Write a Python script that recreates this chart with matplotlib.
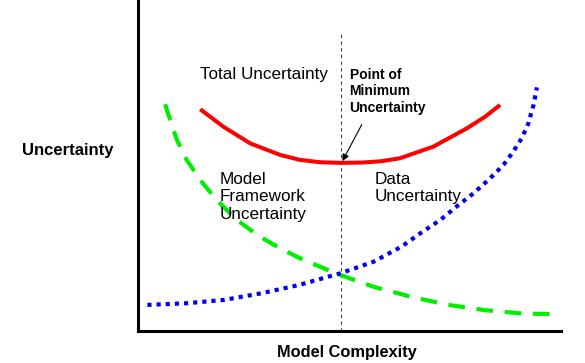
import matplotlib
matplotlib.use("Agg")
import matplotlib.pyplot as plt

plt.rcParams["font.family"] = ["Liberation Sans", "DejaVu Sans"]

# curves (x = model complexity, y = uncertainty)
total_x = [1.47, 2.02, 2.65, 3.36, 3.83, 4.30, 4.80, 5.30, 5.75, 6.19, 6.98, 7.77, 8.20, 8.56]
total_y = [6.70, 6.17, 5.67, 5.32, 5.17, 5.10, 5.08, 5.09, 5.13, 5.22, 5.57, 6.12, 6.47, 6.83]

framework_x = [0.64, 0.76, 0.92, 1.15, 1.47, 1.86, 2.33, 2.88, 3.43, 3.83, 4.68, 5.56, 6.44, 7.33, 8.21, 9.09, 9.88]
framework_y = [6.85, 6.37, 5.77, 5.17, 4.56, 3.96, 3.36, 2.85, 2.45, 2.20, 1.74, 1.34, 1.04, 0.79, 0.63, 0.53, 0.51]

data_x = [0.22, 1.15, 2.03, 2.91, 3.80, 4.77, 5.56, 6.23, 6.67, 7.14, 7.53, 7.93, 8.32, 8.64, 8.87, 9.07, 9.23, 9.35, 9.43]
data_y = [0.79, 0.84, 0.94, 1.14, 1.39, 1.74, 2.09, 2.55, 2.95, 3.35, 3.76, 4.16, 4.61, 5.02, 5.42, 5.82, 6.28, 6.83, 7.36]

min_x = 4.80
min_y = 5.06
line_top = 9.0


def draw():
    fig = plt.figure(figsize=(5.85, 3.63), dpi=100)
    ax = fig.add_axes([0.236, 0.088, 0.723, 0.912])
    ax.set_xlim(0, 10)
    ax.set_ylim(0, 10)

    ax.plot([min_x, min_x], [0, line_top], color="#444444", lw=0.8, ls=(0, (3, 3)))
    ax.plot(total_x, total_y, color="#ff0000", lw=2.9, solid_capstyle="butt",
            solid_joinstyle="round")
    ax.plot(framework_x, framework_y, color="#00ee00", lw=3.0, ls=(0, (4.0, 2.8)))
    ax.plot(data_x, data_y, color="#0000ee", lw=3.0, ls=(0, (1, 1.2)))

    ax.annotate("", xy=(min_x, min_y), xytext=(5.32, 6.31),
                arrowprops=dict(arrowstyle="-|>", color="black", lw=0.8,
                                mutation_scale=10))

    ax.text(2.98, 7.75, "Total Uncertainty", fontsize=12.3, ha="center", va="center")
    ax.text(5.0, 7.94, "Point of\nMinimum\nUncertainty", fontsize=10,
            fontweight="bold", ha="left", va="top", linespacing=1.2)
    ax.text(1.92, 4.81, "Model\nFramework\nUncertainty", fontsize=12.3,
            ha="left", va="top", linespacing=1.2)
    ax.text(5.60, 4.81, "Data\nUncertainty", fontsize=12.3,
            ha="left", va="top", linespacing=1.2)

    for side in ["top", "right"]:
        ax.spines[side].set_visible(False)
    ax.spines["left"].set_linewidth(2.2)
    ax.spines["bottom"].set_linewidth(2.2)
    ax.set_xticks([])
    ax.set_yticks([])

    fig.text(22 / 585, 1 - 151 / 363, "Uncertainty", fontsize=12,
             fontweight="bold", ha="left", va="center")
    fig.text(347 / 585, 1 - 352 / 363, "Model Complexity", fontsize=11.8,
             fontweight="bold", ha="center", va="center")

    fig.savefig("out.png", dpi=100)


if __name__ == "__main__":
    draw()
